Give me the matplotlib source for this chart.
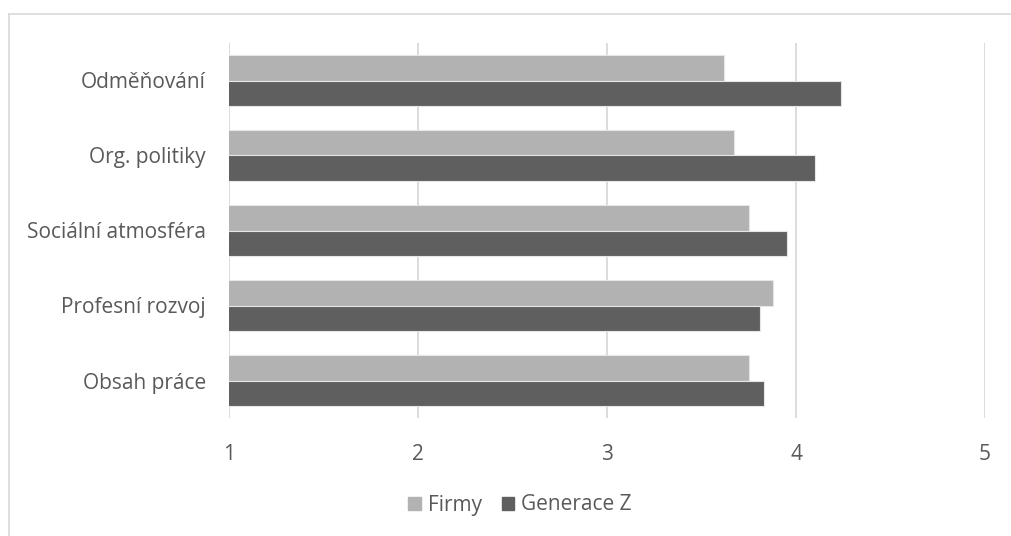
import matplotlib
matplotlib.use("Agg")
import matplotlib.pyplot as plt
import numpy as np
from matplotlib.lines import Line2D

categories = ["Obsah práce", "Profesní rozvoj", "Sociální atmosféra", "Org. politiky", "Odměňování"]
firmy = [3.75, 3.88, 3.75, 3.67, 3.62]
generace_z = [3.83, 3.81, 3.95, 4.10, 4.24]
series_names = ["Firmy", "Generace Z"]
x_ticks = [1, 2, 3, 4, 5]

plt.rcParams['font.family'] = ['Open Sans', 'DejaVu Sans']
text_color = "#595959"
c_firmy = "#b2b2b2"
c_genz = "#5f5f5f"
grid_color = "#d9d9d9"

W, H = 1012, 536
fig = plt.figure(figsize=(W / 100, H / 100), dpi=100)
ax = fig.add_axes([229.5 / W, (H - 418) / H, (985 - 229.5) / W, 375 / H])

y = np.arange(len(categories))
h = 0.337
ax.barh(y + h / 2, firmy, height=h, left=0, color=c_firmy, edgecolor="#e6e6e6", linewidth=0.8,
        label=series_names[0], zorder=3)
ax.barh(y - h / 2, generace_z, height=h, left=0, color=c_genz, edgecolor="#e6e6e6", linewidth=0.8,
        label=series_names[1], zorder=3)

ax.set_xlim(1, 5)
ax.set_ylim(-0.5, len(categories) - 0.5)
ax.set_xticks(x_ticks)
ax.set_xticklabels([str(t) for t in x_ticks])
ax.set_yticks(y)
ax.set_yticklabels(categories)
ax.tick_params(axis="x", length=0, pad=18.5, labelsize=15, colors=text_color)
ax.tick_params(axis="y", length=0, pad=17, labelsize=15, colors=text_color)
ax.grid(axis="x", color=grid_color, linewidth=1.3, zorder=0)
for s in ax.spines.values():
    s.set_visible(False)

handles = [plt.Rectangle((0, 0), 1, 1, color=c_firmy), plt.Rectangle((0, 0), 1, 1, color=c_genz)]
leg = fig.legend(handles, series_names, loc="center", bbox_to_anchor=(520 / W, (H - 505) / H),
                 ncol=2, frameon=False, fontsize=15, handlelength=0.6, handleheight=0.6,
                 handletextpad=0.35, columnspacing=0.95, labelcolor=text_color)

# chart area border (left and top visible)
fig.add_artist(Line2D([9.5 / W, 9.5 / W], [0, (H - 13.5) / H], transform=fig.transFigure,
                      color="#d9d9d9", linewidth=1.2))
fig.add_artist(Line2D([9.5 / W, 1], [(H - 13.5) / H, (H - 13.5) / H], transform=fig.transFigure,
                      color="#d9d9d9", linewidth=1.2))

fig.savefig("out.png", dpi=100, facecolor="white")
